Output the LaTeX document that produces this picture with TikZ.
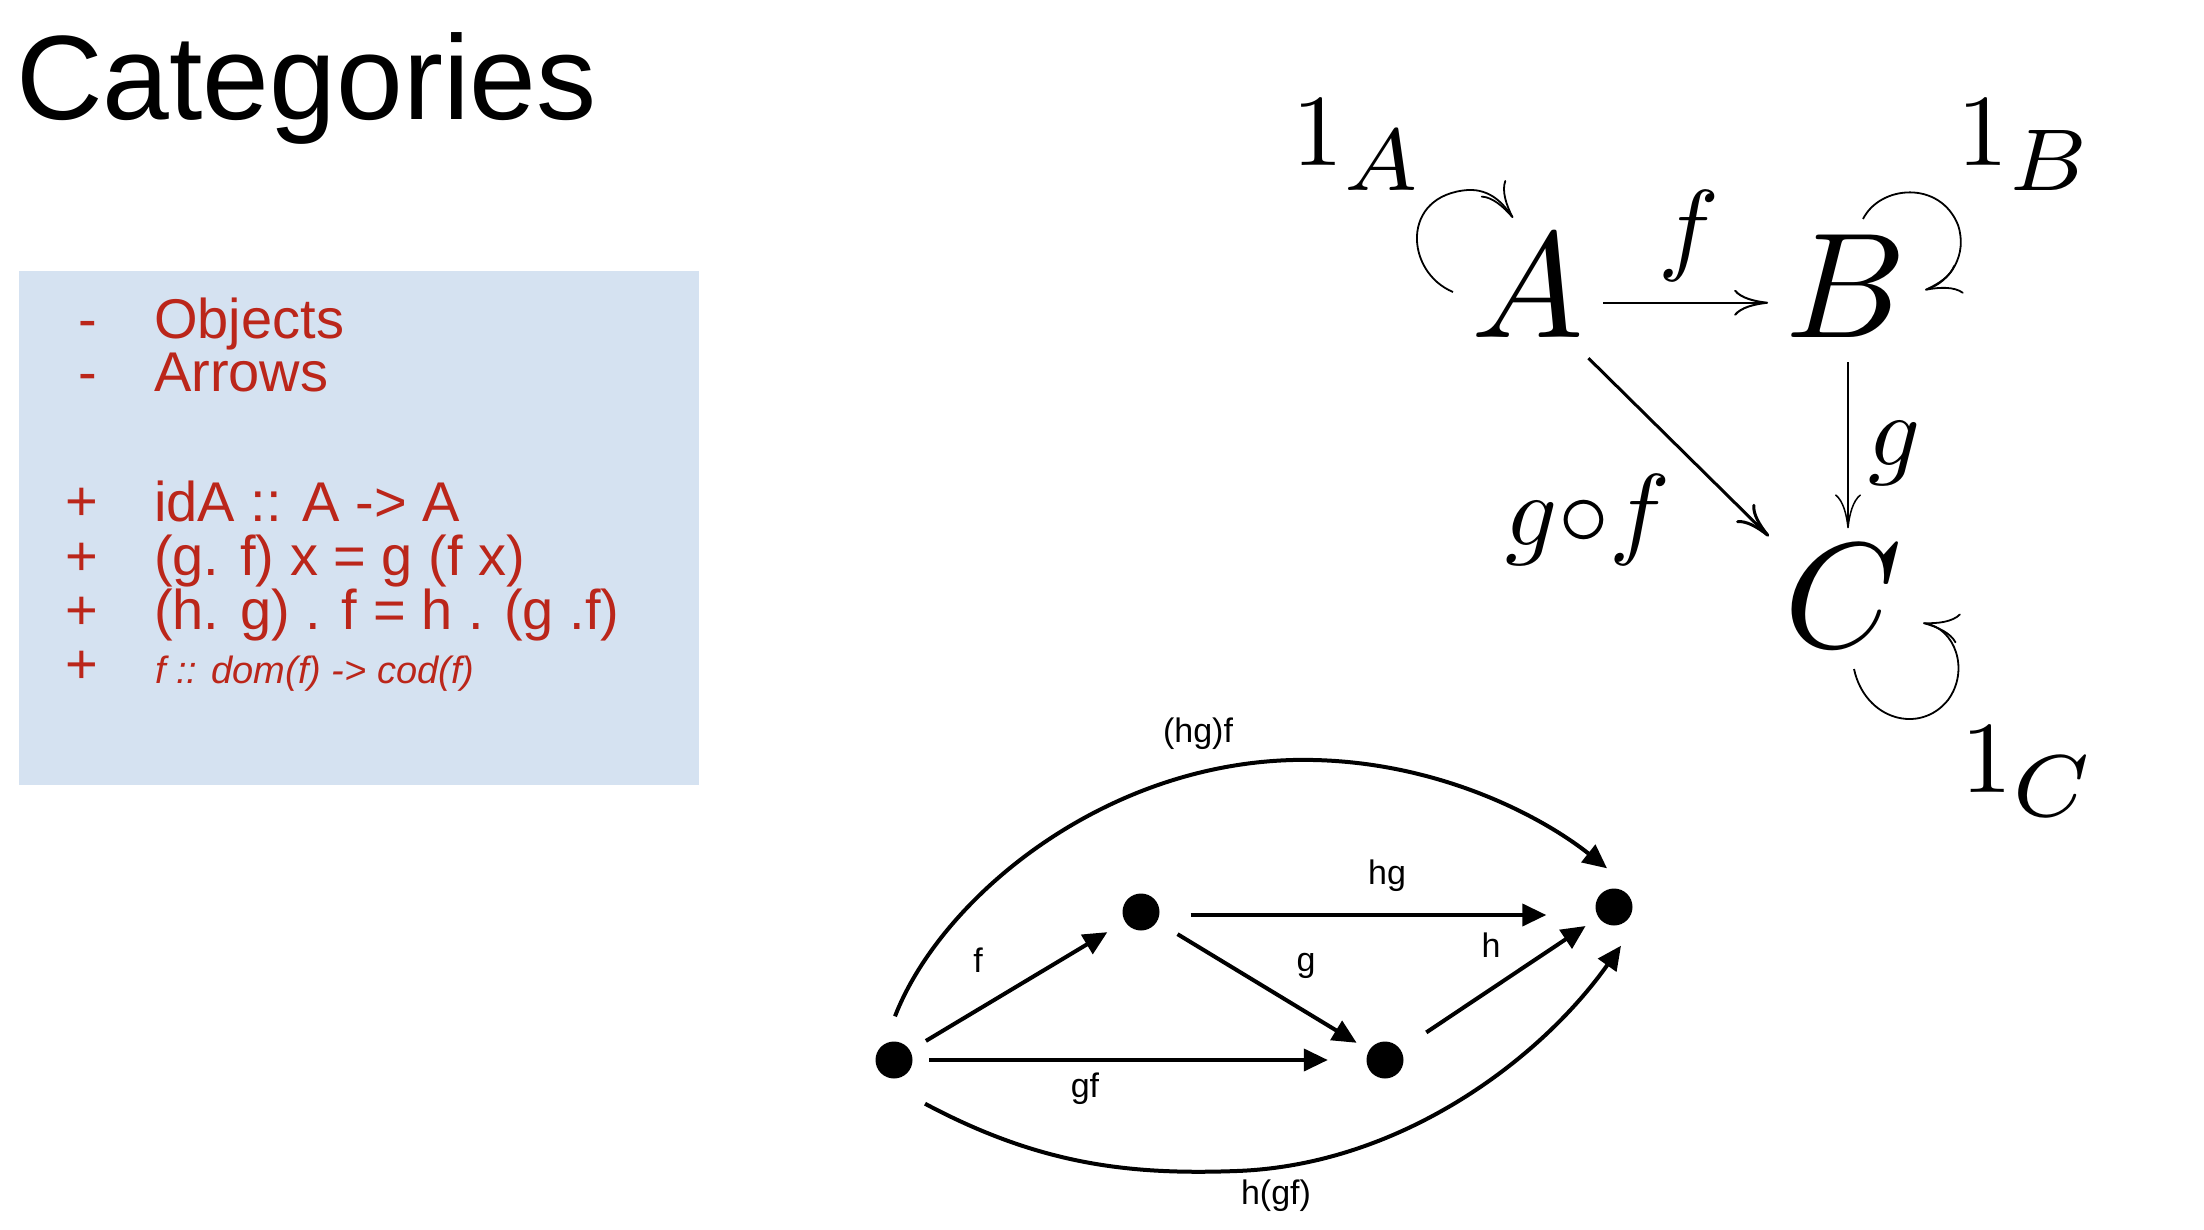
\documentclass[tikz,border=0pt]{standalone}
\usepackage{graphicx}
\usepackage{fontspec}
\usetikzlibrary{arrows.meta}
\newfontfamily\arial{Liberation Sans}
\definecolor{txtred}{RGB}{187,38,26}
\definecolor{boxblue}{RGB}{213,226,241}
\newcommand{\catobj}[1]{\scalebox{15}{$#1$}}
\newcommand{\catlab}[1]{\scalebox{10.2}{$#1$}}
\newcommand{\catid}[1]{\scalebox{10.2}{$1_{\scalebox{1.23}{$\scriptstyle #1$}}$}}
\tikzset{
  obj/.style={inner sep=0pt, anchor=base},
  lab/.style={inner sep=0pt, anchor=base},
  idlab/.style={inner sep=0pt, anchor=base west},
  cmarrow/.style={-{Computer Modern Rightarrow[length=34pt,width=26pt]}},
  looparrow/.style={line width=1.8pt, -{Computer Modern Rightarrow[length=36pt,width=30pt]}},
  item/.style={inner sep=0pt, anchor=base west, text=txtred, font=\arial\fontsize{56}{60}\selectfont},
  itemit/.style={inner sep=0pt, anchor=base west, text=txtred, font=\arial\itshape\fontsize{38}{42}\selectfont},
  dot/.style={circle, fill=black, inner sep=0pt, minimum size=37pt},
  grarrow/.style={line width=4pt, -{Triangle[length=24pt,width=22pt]}},
  glab/.style={inner sep=0pt, font=\arial\fontsize{34}{38}\selectfont},
}
\begin{document}
\begin{tikzpicture}[x=1pt,y=-1pt]
\useasboundingbox (0,0) rectangle (2204,1230);
% title
\node[anchor=base west, inner sep=0pt, font=\arial\fontsize{120}{130}\selectfont] (title) at (16,120) {Categories};
% box
\fill[boxblue] (19,271) rectangle (699,785);
\node[item] (m1) at (78,339) {-};
\node[item] (t1) at (154,339) {Objects};
\node[item] (m2) at (78,392) {-};
\node[item] (t2) at (154,392) {Arrows};
\node[item] (p1) at (65,520) {+};
\node[item] (t3) at (154,521) {idA :: A -> A};
\node[item] (p2) at (65,575) {+};
\node[item] (t4) at (154,575) {(g. f) x = g (f x)};
\node[item] (p3) at (65,629) {+};
\node[item] (t5) at (154,629) {(h. g) . f = h . (g .f)};
\node[item] (p4) at (65,683) {+};
\node[itemit] (t6) at (155,683) {f :: dom(f) -> cod(f)};
% category diagram
\node[obj] (A) at (1528,338) {\catobj{A}};
\node[obj] (B) at (1846,338) {\catobj{B}};
\node[obj] (C) at (1843,647) {\catobj{C}};
\node[lab] (lf) at (1689,262) {\catlab{f}};
\node[lab] (lg) at (1895,465) {\catlab{g}};
\node[lab] (lgf) at (1588,545) {\catlab{g{\circ}f}};
\node[idlab] (lA) at (1292,166) {\catid{A}};
\node[idlab] (lB) at (1957,166) {\catid{B}};
\node[idlab] (lC) at (1961,792) {\catid{C}};
\draw[cmarrow, line width=2pt] ([xshift=19pt,yshift=-16pt]A.east) -- ([xshift=-17pt,yshift=-16pt]B.west);
\draw[cmarrow, line width=1.5pt] ([xshift=2pt,yshift=-24pt]B.south) -- ([xshift=5pt,yshift=16pt]C.north);
\draw[cmarrow, line width=3pt] ([xshift=4pt,yshift=-20pt]A.south east) -- ([xshift=-15pt,yshift=8pt]C.north west);
% identity loops
\draw[looparrow] (1453,292) .. controls (1405,272) and (1400,195) .. (1468,190) .. controls (1490,189) and (1503,203) .. (1513,218);
\draw[looparrow] (1863,219) .. controls (1880,185) and (1940,180) .. (1958,225) .. controls (1968,255) and (1950,282) .. (1925,290);
\draw[looparrow] (1854,669) .. controls (1865,720) and (1920,735) .. (1948,700) .. controls (1970,670) and (1955,628) .. (1923,623);
% composition graph
\node[dot] (L) at (894,1060) {};
\node[dot] (M) at (1141,912) {};
\node[dot] (D) at (1385,1060) {};
\node[dot] (R) at (1614,907) {};
\draw[grarrow, shorten <=18.5pt, shorten >=20.5pt] (L) -- (M);
\draw[grarrow] ([xshift=31pt,yshift=-3pt]M.east) -- ([xshift=-49pt,yshift=-8pt]R.west);
\draw[grarrow, shorten <=24pt, shorten >=14.5pt] (M) -- (D);
\draw[grarrow, shorten <=31pt, shorten >=15.5pt] (D) -- (R);
\draw[grarrow, shorten <=16.5pt, shorten >=38.5pt] (L) -- (D);
\draw[grarrow] ([xshift=1pt,yshift=25pt]L.north) .. controls (940,900) and (1100,765) .. (1293,760) .. controls (1430,757) and (1540,815) .. ([xshift=-7pt,yshift=20pt]R.north);
\draw[grarrow] ([xshift=31pt,yshift=-25pt]L.south) .. controls (1040,1165) and (1130,1175) .. (1237,1171) .. controls (1400,1165) and (1540,1060) .. ([xshift=7pt,yshift=-20pt]R.south);
\node[glab] (lhgf) at (1198,734) {(hg)f};
\node[glab] (lf2) at (978,960) {f};
\node[glab] (lhg) at (1387,876) {hg};
\node[glab] (lg2) at (1306,966) {g};
\node[glab] (lh) at (1491,945) {h};
\node[glab] (lgf2) at (1085,1089) {gf};
\node[glab] (lhgf2) at (1276,1196) {h(gf)};
\end{tikzpicture}
\end{document}
